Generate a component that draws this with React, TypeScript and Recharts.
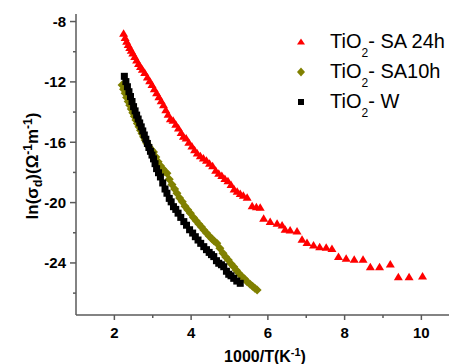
import React from 'react';
import { ScatterChart, Scatter, XAxis, YAxis } from 'recharts';

const FONT = '"Liberation Sans", Arial, sans-serif';
const AXIS = '#5a5a5a';

// TiO2 - SA 24h (red triangles)
const sa24hX = [
  2.24, 2.28, 2.32, 2.36, 2.40, 2.44, 2.48, 2.53, 2.58, 2.63, 2.68, 2.73, 2.79, 2.86, 2.92, 2.98,
  3.04, 3.10, 3.16, 3.22, 3.28, 3.34, 3.40, 3.46, 3.53, 3.60, 3.67, 3.74, 3.80, 3.87, 3.94, 4.02,
  4.09, 4.16, 4.24, 4.32, 4.40, 4.48, 4.56, 4.64, 4.72, 4.80, 4.88, 4.96, 5.04, 5.12, 5.20, 5.28,
  5.36, 5.46, 5.59, 5.70, 5.80, 5.89, 6.06, 6.24, 6.37, 6.45, 6.58, 6.76, 6.89, 7.02, 7.19, 7.35,
  7.52, 7.67, 7.84, 8.04, 8.25, 8.48, 8.67, 8.91, 9.19, 9.40, 9.68, 10.03,
];
const sa24hY = [
  -8.77, -9.05, -9.30, -9.52, -9.72, -9.90, -10.08, -10.32, -10.55, -10.78, -10.98, -11.17, -11.38, -11.67, -11.92, -12.18,
  -12.45, -12.72, -12.98, -13.25, -13.52, -13.85, -14.15, -14.45, -14.55, -14.80, -15.05, -15.35, -15.60, -15.72, -16.00, -16.25,
  -16.50, -16.72, -16.90, -17.05, -17.20, -17.40, -17.55, -17.85, -18.05, -18.20, -18.40, -18.55, -18.80, -19.10, -19.25, -19.40,
  -19.52, -19.64, -20.21, -20.28, -20.31, -21.04, -21.26, -21.37, -21.48, -21.77, -21.81, -21.88, -22.43, -22.65, -22.81, -22.92,
  -22.96, -23.05, -23.58, -23.69, -23.76, -23.76, -24.25, -24.25, -24.07, -24.91, -24.91, -24.86,
];

// TiO2 - SA10h (olive diamonds)
const sa10hX = [
  2.20, 2.24, 2.28, 2.32, 2.36, 2.40, 2.44, 2.48, 2.52, 2.56, 2.60, 2.64, 2.68, 2.72, 2.76, 2.80,
  2.85, 2.90, 2.96, 3.02, 3.08, 3.14, 3.20, 3.26, 3.32, 3.37, 3.43, 3.50, 3.57, 3.63, 3.70, 3.77,
  3.84, 3.91, 3.98, 4.06, 4.13, 4.20, 4.27, 4.33, 4.40, 4.47, 4.54, 4.60, 4.67, 4.75, 4.83, 4.90,
  4.97, 5.04, 5.11, 5.18, 5.25, 5.32, 5.39, 5.46, 5.53, 5.60, 5.66, 5.72,
];
const sa10hY = [
  -12.20, -12.48, -12.76, -13.03, -13.30, -13.55, -13.80, -14.04, -14.28, -14.52, -14.75, -14.98, -15.20, -15.42, -15.63, -15.85,
  -16.08, -16.30, -16.48, -16.65, -16.98, -17.30, -17.55, -17.75, -17.95, -18.05, -18.45, -18.80, -19.10, -19.38, -19.70, -19.95,
  -20.25, -20.48, -20.71, -20.98, -21.20, -21.42, -21.62, -21.81, -22.02, -22.22, -22.40, -22.55, -22.69, -23.02, -23.35, -23.60,
  -23.80, -24.05, -24.25, -24.48, -24.70, -24.90, -25.05, -25.24, -25.40, -25.55, -25.68, -25.79,
];

// TiO2 - W (black squares)
const wX = [
  2.26, 2.30, 2.34, 2.38, 2.42, 2.46, 2.50, 2.54, 2.58, 2.62, 2.66, 2.70, 2.74, 2.78, 2.82, 2.86,
  2.90, 2.94, 2.98, 3.02, 3.06, 3.10, 3.15, 3.20, 3.26, 3.32, 3.37, 3.43, 3.48, 3.54, 3.60, 3.66,
  3.73, 3.81, 3.88, 3.96, 4.04, 4.11, 4.18, 4.25, 4.33, 4.40, 4.47, 4.53, 4.59, 4.66, 4.72, 4.79,
  4.85, 4.92, 4.98, 5.04, 5.11, 5.19, 5.28,
];
const wY = [
  -11.63, -11.98, -12.32, -12.65, -12.97, -13.30, -13.64, -13.92, -14.20, -14.46, -14.72, -14.98, -15.25, -15.52, -15.80, -16.08,
  -16.35, -16.60, -16.85, -17.10, -17.42, -17.75, -18.02, -18.30, -18.70, -19.10, -19.38, -19.72, -19.95, -20.27, -20.45, -20.70,
  -20.98, -21.26, -21.50, -21.80, -22.02, -22.26, -22.48, -22.70, -22.92, -23.12, -23.30, -23.45, -23.58, -23.85, -24.02, -24.12,
  -24.25, -24.55, -24.75, -24.85, -25.02, -25.20, -25.35,
];

const xTicks = [2, 3, 4, 5, 6, 7, 8, 9, 10];
const yTicks = [-26, -24, -22, -20, -18, -16, -14, -12, -10, -8];

const toPoints = (xs: number[], ys: number[]) => xs.map((x, i) => ({ x, y: ys[i] }));

const Triangle = ({ cx, cy }: any) => (
  <polygon points={`${cx},${cy - 4} ${cx + 4.5},${cy + 3.5} ${cx - 4.5},${cy + 3.5}`} fill="#ff0000" />
);
const Diamond = ({ cx, cy }: any) => (
  <polygon points={`${cx},${cy - 4.5} ${cx + 4.5},${cy} ${cx},${cy + 4.5} ${cx - 4.5},${cy}`} fill="#808000" />
);
const Square = ({ cx, cy }: any) => <rect x={cx - 3.5} y={cy - 3.5} width={7} height={7} fill="#000" />;

const series = [
  { name: 'SA 24h', data: toPoints(sa24hX, sa24hY), shape: Triangle },
  { name: 'SA10h', data: toPoints(sa10hX, sa10hY), shape: Diamond },
  { name: 'W', data: toPoints(wX, wY), shape: Square },
];

const XTick = ({ x, y, payload }: any) => {
  const major = payload.value % 2 === 0;
  return (
    <g>
      <line x1={x} y1={y} x2={x} y2={y + (major ? 5 : 3)} stroke={AXIS} strokeWidth={1.5} />
      {major && (
        <text x={x} y={y + 22.5} textAnchor="middle" fontSize={15} fontWeight="bold" fontFamily={FONT} fill="#000">
          {payload.value}
        </text>
      )}
    </g>
  );
};

const YTick = ({ x, y, payload }: any) => {
  const major = payload.value % 4 === 0;
  return (
    <g>
      <line x1={x} y1={y} x2={x - (major ? 6 : 3)} y2={y} stroke={AXIS} strokeWidth={1.5} />
      {major && (
        <text x={x - 10} y={y + 5.3} textAnchor="end" fontSize={15} fontWeight="bold" fontFamily={FONT} fill="#000">
          {payload.value}
        </text>
      )}
    </g>
  );
};

const XTitle = () => (
  <text x={265} y={361.5} textAnchor="middle" fontSize={16} fontWeight="bold" fontFamily={FONT} fill="#000">
    1000/T(K
    <tspan dy={-6} fontSize={11}>-1</tspan>
    <tspan dy={6}>)</tspan>
  </text>
);

const YTitle = () => (
  <text
    x={38}
    y={166}
    transform="rotate(-90, 38, 166)"
    textAnchor="middle"
    fontSize={17}
    fontWeight="bold"
    fontFamily={FONT}
    fill="#000"
  >
    ln(σ
    <tspan dy={4} fontSize={12}>d</tspan>
    <tspan dy={-4}>)(Ω</tspan>
    <tspan dy={-6} fontSize={12}>-1</tspan>
    <tspan dy={6}>m</tspan>
    <tspan dy={-6} fontSize={12}>-1</tspan>
    <tspan dy={6}>)</tspan>
  </text>
);

const legendMarker = (name: string) => {
  if (name === 'SA 24h') return <polygon points="7,3.5 11,9.5 3,9.5" fill="#ff0000" />;
  if (name === 'SA10h') return <polygon points="7,2.5 11,7 7,11.5 3,7" fill="#808000" />;
  return <rect x={4} y={4} width={6} height={6} fill="#000" />;
};

const ChartLegend = () => (
  <div style={{ position: 'absolute', top: 27, left: 294, fontFamily: FONT, fontSize: 20, color: '#000' }}>
    {series.map((s) => (
      <div key={s.name} style={{ display: 'flex', alignItems: 'center', height: 30 }}>
        <svg width={14} height={14} style={{ marginRight: 22 }}>
          {legendMarker(s.name)}
        </svg>
        <span style={{ whiteSpace: 'nowrap', lineHeight: '30px' }}>
          TiO
          <span style={{ fontSize: 12, position: 'relative', top: 9 }}>2</span>- {s.name}
        </span>
      </div>
    ))}
  </div>
);

export default function App() {
  return (
    <div style={{ position: 'absolute', left: 0, top: 0, width: 449, height: 364, background: '#fff' }}>
      <ScatterChart width={449} height={364} margin={{ top: 14, right: 0, bottom: 0, left: 0 }}>
        <XAxis
          type="number"
          dataKey="x"
          domain={[1, 10.72]}
          ticks={xTicks}
          interval={0}
          height={49}
          tickSize={0}
          tickMargin={0}
          tick={<XTick />}
          tickLine={false}
          axisLine={{ stroke: AXIS, strokeWidth: 1.5 }}
          label={{ content: <XTitle /> }}
        />
        <XAxis
          xAxisId="top"
          type="number"
          orientation="top"
          domain={[1, 10.72]}
          ticks={xTicks}
          interval={0}
          height={0}
          mirror
          tick={false}
          tickSize={4}
          tickLine={{ stroke: AXIS, strokeWidth: 1.5 }}
          axisLine={{ stroke: AXIS, strokeWidth: 1.5 }}
        />
        <YAxis
          type="number"
          dataKey="y"
          domain={[-27.45, -7.5]}
          ticks={yTicks}
          interval={0}
          width={76}
          tickSize={0}
          tickMargin={0}
          tick={<YTick />}
          tickLine={false}
          axisLine={{ stroke: AXIS, strokeWidth: 1.5 }}
          label={{ content: <YTitle /> }}
        />
        {series.map((s) => (
          <Scatter key={s.name} name={s.name} data={s.data} shape={s.shape} isAnimationActive={false} />
        ))}
      </ScatterChart>
      <ChartLegend />
    </div>
  );
}
